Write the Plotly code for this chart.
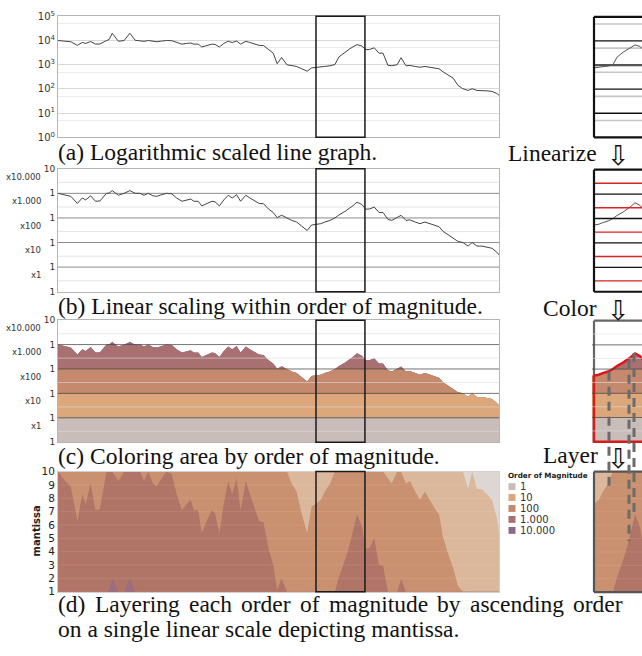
import numpy as np
import plotly.graph_objects as go

W, H = 642, 656

# ---------------- data ----------------
t = [0.0, 1.6, 2.9, 4.4, 5.5, 6.3, 7.4, 8.5, 9.5, 11.0, 11.6, 12.3, 13.7, 15.0, 16.3, 17.5,
     18.6, 19.5, 20.5, 21.5, 22.4, 23.5, 24.6, 25.8, 26.9, 28.1, 29.2, 30.1, 30.8, 31.8, 32.6,
     33.7, 34.9, 35.6, 36.6, 37.6, 38.6, 39.5, 40.5, 41.4, 42.6, 43.5, 44.7, 45.6, 46.6, 47.7,
     48.8, 49.7, 50.7, 51.9, 53.0, 54.1, 55.3, 56.5, 57.5, 58.5, 59.6, 60.5, 61.7, 62.8, 63.7,
     65.1, 66.2, 66.9, 67.8, 68.9, 69.8, 70.7, 71.7, 72.8, 73.7, 74.8, 75.7, 76.9, 77.8, 78.9,
     79.8, 81.0, 82.1, 83.2, 84.4, 85.5, 86.4, 87.3, 88.4, 89.6, 90.7, 91.8, 93.0, 93.9, 95.0,
     96.1, 97.3, 98.4, 99.5, 100.0]
values = [10000, 9300, 8900, 6300, 8300, 7600, 9100, 7100, 7200, 10000, 11000, 20000, 9300,
          10000, 20000, 10200, 10000, 9300, 10000, 9100, 8900, 9500, 10000, 9800, 8300, 7100,
          7600, 7900, 7100, 7100, 5400, 6300, 7100, 6900, 5400, 7600, 9300, 8300, 9500, 7100,
          9300, 8300, 7200, 6300, 6200, 4300, 3000, 1100, 2000, 1000, 910, 850, 680, 540, 740,
          760, 790, 850, 910, 1020, 2100, 3400, 4600, 5500, 6800, 5900, 4200, 4300, 5000, 3000,
          3000, 950, 910, 1000, 1950, 910, 930, 850, 790, 850, 780, 720, 680, 510, 390, 280,
          140, 102, 87, 102, 87, 87, 83, 79, 65, 55]
order_labels = ["1", "10", "100", "1.000", "10.000"]
band_labels = ["x1", "x10", "x100", "x1.000", "x10.000"]
band_colors = ["#c8bdb8", "#dca87b", "#c58a6d", "#a97071", "#8b6a87"]
layer_colors = ["#ddd6d3", "#dbb89b", "#c9916f", "#b07566", "#9a6d80"]
decade_ticks = [1, 10, 100, 1000, 10000, 100000]
half_ticks = [5, 50, 500, 5000, 50000]
box_range = [58.5, 69.6]

# ---------------- transforms ----------------
v = np.array(values, float)
L = np.log10(v)
kk = np.clip(np.floor(L + 1e-9), 0, 4)
Y = kk + (10 ** (L - kk) - 1) / 9.0


def px2x(x):
    return x / W


def px2y(y):
    return 1 - y / H


main_x = [px2x(58), px2x(499)]
right_x = [px2x(594), 1.0]
rx_range = [58.5, 58.5 + (642 - 594) / 441 * 100]
rows = {"a": (9.5, 133), "b": (165, 290.5), "c": (319.5, 444), "d": (474, 596.5)}
rrows = {"a": (10, 133), "b": (166, 290.5), "c": (320, 443.5), "d": (474, 597)}


def ydom(r):
    return [px2y(r[1]), px2y(r[0])]


TICKF = dict(family="DejaVu Sans", size=10, color="#333")

fig = go.Figure()


def add(tr, ax):
    tr.update(xaxis="x" + ("" if ax == 1 else str(ax)), yaxis="y" + ("" if ax == 1 else str(ax)),
              showlegend=False, hoverinfo="skip")
    fig.add_trace(tr)


# (a) log line
add(go.Scatter(x=t, y=values, mode="lines", line=dict(color="#444", width=1)), 1)
# (b) linear within order
add(go.Scatter(x=t, y=Y, mode="lines", line=dict(color="#444", width=1)), 2)
# (c) coloured bands
for ax in (3, 7):
    for b in range(4, -1, -1):
        add(go.Scatter(x=t, y=np.minimum(Y, b + 1), mode="lines", fill="tozeroy",
                       fillcolor=band_colors[b], line=dict(width=0)), ax)
# (d) layered mantissa
for ax in (4, 8):
    for b in range(5):
        h = 10 ** np.clip(L - b, 0, 1)
        add(go.Scatter(x=t, y=h, mode="lines", fill="tozeroy",
                       fillcolor=layer_colors[b], line=dict(width=0)), ax)
# right small panels
add(go.Scatter(x=t, y=values, mode="lines", line=dict(color="#555", width=1)), 5)
add(go.Scatter(x=t, y=Y, mode="lines", line=dict(color="#555", width=1)), 6)
idx = [i for i, tt in enumerate(t) if box_range[0] <= tt <= 72]
ox = [t[i] for i in idx] + [t[idx[-1]], t[idx[0]], t[idx[0]]]
oy = [Y[i] for i in idx] + [0, 0, Y[idx[0]]]
add(go.Scatter(x=ox, y=oy, mode="lines", line=dict(color="#d91a1a", width=2.5)), 7)


# ---------------- axes ----------------
def xa(dom, rng, anchor, frame=None):
    d = dict(domain=dom, range=rng, anchor=anchor, showticklabels=False, showgrid=False,
             zeroline=False, ticks="", fixedrange=True)
    if frame:
        d.update(showline=True, mirror=True, linecolor=frame, linewidth=1)
    return d


def ya(dom, rng, anchor, frame=None, **kw):
    d = dict(domain=dom, range=rng, anchor=anchor, showgrid=False, zeroline=False, ticks="",
             fixedrange=True)
    if frame:
        d.update(showline=True, mirror=True, linecolor=frame, linewidth=1)
    d.update(kw)
    return d


FR = "#b5b5b5"
lay = {}
lay["xaxis"] = xa(main_x, [0, 100], "y", FR)
lay["yaxis"] = ya(ydom(rows["a"]), [0, 5], "x", FR, type="log", tickvals=decade_ticks,
                  ticktext=["10<sup>%d</sup>" % i for i in range(6)], tickfont=TICKF,
                  showgrid=True, gridcolor="#d9d9d9",
                  minor=dict(tickvals=half_ticks, showgrid=True, gridcolor="#ececec"))
lay["xaxis2"] = xa(main_x, [0, 100], "y2", FR)
lay["yaxis2"] = ya(ydom(rows["b"]), [0, 5], "x2", FR, tickvals=list(range(6)),
                   ticktext=["1"] * 5 + ["10"], tickfont=dict(TICKF, size=9))
lay["xaxis3"] = xa(main_x, [0, 100], "y3", FR)
lay["yaxis3"] = ya(ydom(rows["c"]), [0, 5], "x3", FR, tickvals=list(range(6)),
                   ticktext=["1"] * 5 + ["10"], tickfont=dict(TICKF, size=9))
lay["xaxis4"] = xa(main_x, [0, 100], "y4", "#d0d0d0")
lay["yaxis4"] = ya(ydom(rows["d"]), [1, 10], "x4", "#d0d0d0", tickvals=list(range(1, 11)),
                   tickfont=dict(TICKF, size=10.5, color="#222"))
lay["xaxis5"] = xa(right_x, rx_range, "y5")
lay["yaxis5"] = ya(ydom(rrows["a"]), [0, 5], "x5", type="log", showticklabels=False)
lay["xaxis6"] = xa(right_x, rx_range, "y6")
lay["yaxis6"] = ya(ydom(rrows["b"]), [0, 5], "x6", showticklabels=False)
c_scale = 5 / (443.5 - 320)
lay["xaxis7"] = xa([px2x(592), 1.0], [58.5 - 2 / 4.41, rx_range[1]], "y7")
lay["yaxis7"] = ya([px2y(445.5), px2y(320)], [-2 * c_scale, 5], "x7", showticklabels=False)
lay["xaxis8"] = xa(right_x, rx_range, "y8")
lay["yaxis8"] = ya(ydom(rrows["d"]), [1, 10], "x8", showticklabels=False)

# ---------------- shapes ----------------
shapes = []


def hl(ax, y, color, width, layer="above"):
    sx = "x" + ("" if ax == 1 else str(ax))
    sy = "y" + ("" if ax == 1 else str(ax))
    shapes.append(dict(type="line", xref=sx + " domain", yref=sy, x0=0, x1=1, y0=y, y1=y,
                       line=dict(color=color, width=width), layer=layer))


for b in range(5):
    mid = b + 4 / 9
    hl(2, mid, "#e3e3e3", 1, "below")
    hl(3, mid, "rgba(222,222,222,0.6)", 1)
    hl(6, mid, "#dd2222", 1.4)
    hl(7, mid, "rgba(222,222,222,0.6)", 1)
for b in range(1, 5):
    hl(2, b, "#8c8c8c", 1, "below")
    hl(3, b, "rgba(70,70,70,0.75)", 1)
    hl(6, b, "#111", 1.3)
    hl(7, b, "rgba(70,70,70,0.75)", 1)
for m in range(2, 10):
    hl(4, m, "rgba(255,255,255,0.10)", 1)
    hl(8, m, "rgba(255,255,255,0.10)", 1)
# (a') grid on the log axis (data values)
for hv in half_ticks:
    hl(5, hv, "#c6c6c6", 1.6, "below")
for dv in decade_ticks[1:5]:
    if dv == 1000:
        hl(5, dv, "#555", 2.2, "below")
    else:
        hl(5, dv, "#111", 1.3, "below")

# selection boxes
for ax in (1, 2, 3, 4):
    sx = "x" + ("" if ax == 1 else str(ax))
    sy = "y" + ("" if ax == 1 else str(ax))
    shapes.append(dict(type="rect", xref=sx, yref=sy + " domain", x0=box_range[0],
                       x1=box_range[1], y0=0, y1=1, line=dict(color="#1a1a1a", width=1.5),
                       layer="above"))


# right panel borders (paper px)
def pline(x0, y0, x1, y1, color, width, layer="above", dash=None):
    ln = dict(color=color, width=width)
    if dash:
        ln["dash"] = dash
    shapes.append(dict(type="line", xref="paper", yref="paper", x0=px2x(x0), x1=px2x(x1),
                       y0=px2y(y0), y1=px2y(y1), line=ln, layer=layer))


for key, col in (("a", "#111"), ("b", "#111"), ("d", "#555")):
    top, bot = rrows[key]
    pline(594, top, 594, bot, col, 2.2)
    pline(594, top, 660, top, col, 2.2)
    pline(594, bot, 660, bot, col, 2.2)
pline(594, 320, 594, 443.5, "#666", 2.2, layer="below")
pline(594, 320, 660, 320, "#666", 2.2)

# dashed projection guides
for x0, y0, y1 in ((609, 372, 492), (629, 360, 545), (634, 353, 519)):
    pline(x0, y0, x0, y1, "#6b6b6b", 3, dash="9px,6px")

# legend squares
leg_rows = [489.3, 500.4, 511.6, 522.8, 534.0]
for yy, col in zip(leg_rows, band_colors):
    shapes.append(dict(type="rect", xref="paper", yref="paper", x0=px2x(508.5), x1=px2x(515.5),
                       y0=px2y(yy + 3.5), y1=px2y(yy - 3.5), fillcolor=col,
                       line=dict(width=0)))

# ---------------- annotations ----------------
anns = []
SERIF = "Liberation Serif"


def ann(text, x, y, size, family="DejaVu Sans", color="#222", xanchor="left", **kw):
    d = dict(text=text, x=px2x(x), y=px2y(y), xref="paper", yref="paper", xanchor=xanchor,
             yanchor="middle", showarrow=False,
             font=dict(size=size, family=family, color=color))
    d.update(kw)
    anns.append(d)


FS = 23.5
ann("(a) Logarithmic scaled line graph.", 56, 147.5, FS, SERIF, "#111")
ann("(b) Linear scaling within order of magnitude.", 56, 305.5, FS, SERIF, "#111")
ann("(c) Coloring area by order of magnitude.", 56, 458, FS, SERIF, "#111")

# justified first line of (d)
TW = {'(': 333, ')': 333, 'a': 444, 'b': 500, 'c': 444, 'd': 500, 'e': 444, 'f': 333,
      'g': 500, 'h': 500, 'i': 278, 'l': 278, 'm': 778, 'n': 500, 'o': 500, 'r': 333,
      's': 389, 't': 278, 'u': 500, 'y': 500, 'L': 611, 'p': 500, '.': 250}
words = "(d) Layering each order of magnitude by ascending order".split()
wlen = [sum(TW.get(ch, 500) for ch in w) * FS / 1000 for w in words]
gap = (622 - 57 - sum(wlen)) / (len(words) - 1)
cx = 57
for w, wl in zip(words, wlen):
    ann(w, cx - 1, 609, FS, SERIF, "#111")
    cx += wl + gap
ann("on a single linear scale depicting mantissa.", 56, 634.5, FS, SERIF, "#111")

# right side step labels
ann("Linearize", 599, 149, FS, SERIF, "#111", xanchor="right")
ann("Color", 599, 307, FS, SERIF, "#111", xanchor="right")
ann("Layer", 600, 457, FS, SERIF, "#111", xanchor="right")
for yy in (151, 310, 461):
    ann("\u21e9", 618, yy, 27, "DejaVu Sans", "#111", xanchor="center")

# multiplier labels on (b) and (c)
for ax in (2, 3):
    for b, lab in enumerate(band_labels):
        anns.append(dict(text=lab, x=px2x(43), y=b + 0.68, xref="paper", yref="y%d" % ax,
                         xanchor="right", yanchor="middle", showarrow=False,
                         font=dict(size=8.5, family="DejaVu Sans", color="#333")))

# mantissa axis title
ann("<b>mantissa</b>", 36, 535, 10, color="#222", xanchor="center", textangle=-90)

# legend
ann("<b>Order of Magnitude</b>", 506, 477.5, 7.2, color="#222")
for yy, lab in zip(leg_rows, order_labels):
    ann(lab, 517.5, yy, 10, color="#333")

fig.update_layout(
    width=W, height=H, margin=dict(l=0, r=0, t=0, b=0),
    paper_bgcolor="white", plot_bgcolor="white",
    shapes=shapes, annotations=anns, showlegend=False, **lay)

fig.write_html("out.html", config={"displayModeBar": False, "staticPlot": True},
               post_script="document.body.style.margin='0px';"
                           "document.body.style.overflow='hidden';")
